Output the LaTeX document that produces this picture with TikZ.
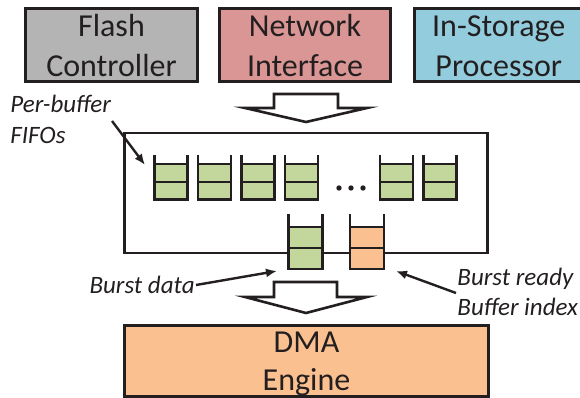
\documentclass[tikz,border=0pt]{standalone}
\usepackage{fontspec}
\setmainfont{Carlito}
\usetikzlibrary{arrows.meta}

\definecolor{ink}{HTML}{231F20}
\definecolor{flashgray}{HTML}{B4B4B4}
\definecolor{netpink}{HTML}{D99694}
\definecolor{procblue}{HTML}{93CDDD}
\definecolor{bufgreen}{HTML}{C3D69B}
\definecolor{dmaorange}{HTML}{FAC090}

% one buffer: centre x, half width, wall top, fill top, divider, bottom, fill colour
\newcommand{\fifobuf}[7]{%
  \fill[#7] (#1-#2,#4) rectangle (#1+#2,#6);
  \draw (#1-#2,#3) -- (#1-#2,#6) -- (#1+#2,#6) -- (#1+#2,#3);
  \draw (#1-#2,#4) -- (#1+#2,#4) (#1-#2,#5) -- (#1+#2,#5);
}

\begin{document}
\begin{tikzpicture}[x=1pt, y=-1pt, line width=2.8pt, draw=ink, ink,
  unitbox/.style={draw=ink, inner sep=0pt, line join=miter},
  boxtxt/.style={font=\fontsize{32}{38}\selectfont, text=ink, inner sep=0pt, anchor=base},
  lbl/.style={font=\fontsize{25}{30}\selectfont\itshape, text=ink, inner sep=0pt},
  blockarrow/.style={draw=ink, fill=white, line width=2.6pt, line join=miter},
  callout/.style={draw=ink, line width=2.4pt, -{Latex[length=11pt,width=9pt]}}]
\useasboundingbox (0,0) rectangle (580,398);

% source units
\node[unitbox, fill=flashgray, minimum width=172pt, minimum height=73pt] (flash) at (111.5,45) {};
\node[boxtxt] (flash1) at (111.5,37) {Flash};
\node[boxtxt] (flash2) at (111.5,77) {Controller};

\node[unitbox, fill=netpink, minimum width=171pt, minimum height=73pt] (net) at (305,45) {};
\node[boxtxt] (net1) at (305,37) {Network};
\node[boxtxt] (net2) at (305,77) {Interface};

\node[unitbox, fill=procblue, minimum width=168.5pt, minimum height=73pt] (proc) at (498.75,45) {};
\node[boxtxt] (proc1) at (498.75,37) {In-Storage};
\node[boxtxt] (proc2) at (498.75,77) {Processor};

% block arrow into the buffer array
\draw[blockarrow] (274,94) -- (338,94) -- (338,108) -- (367,108) -- (306,122)
  -- (245,108) -- (274,108) -- cycle;

% buffer array enclosure
\node[unitbox, minimum width=363pt, minimum height=120pt] (array) at (306,193) {};

% per-buffer FIFOs
\foreach \cx in {171,214.5,258,301.5,396.5,440}{
  \fifobuf{\cx}{16.5}{155}{164}{182}{199.5}{bufgreen}
}
\foreach \dx in {339,351,363}{
  \fill (\dx,188) circle (2.7);
}

% burst data and burst-ready index queues
\fifobuf{305.5}{17}{214}{227}{248}{269}{bufgreen}
\fifobuf{367}{17}{214}{227}{248}{269}{dmaorange}

% block arrow into the DMA engine
\draw[blockarrow] (274,282) -- (337,282) -- (337,297) -- (367,297) -- (306,313)
  -- (245,297) -- (274,297) -- cycle;

% DMA engine
\node[unitbox, fill=dmaorange, minimum width=364pt, minimum height=71pt] (dma) at (306.5,361) {};
\node[boxtxt] (dma1) at (306.5,352) {DMA};
\node[boxtxt] (dma2) at (306.5,390) {Engine};

% labels and callouts
\node[lbl, anchor=base west] (pb1) at (9,113) {Per-buffer};
\node[lbl, anchor=base west] (pb2) at (9,143) {FIFOs};
\coordinate (pbtail) at (112,121);
\coordinate (pbtip) at (145,165);
\draw[callout] (pbtail) -- (pbtip);

\node[lbl, anchor=base east] (bd) at (196,293) {Burst data};
\coordinate (bdtail) at (196,285);
\coordinate (bdtip) at (277,271);
\draw[callout] (bdtail) -- (bdtip);

\node[lbl, anchor=base west] (br1) at (456,285) {Burst ready};
\node[lbl, anchor=base west] (br2) at (456,315) {Buffer index};
\coordinate (brtail) at (456,293);
\coordinate (brtip) at (396,271);
\draw[callout] (brtail) -- (brtip);
\end{tikzpicture}
\end{document}
